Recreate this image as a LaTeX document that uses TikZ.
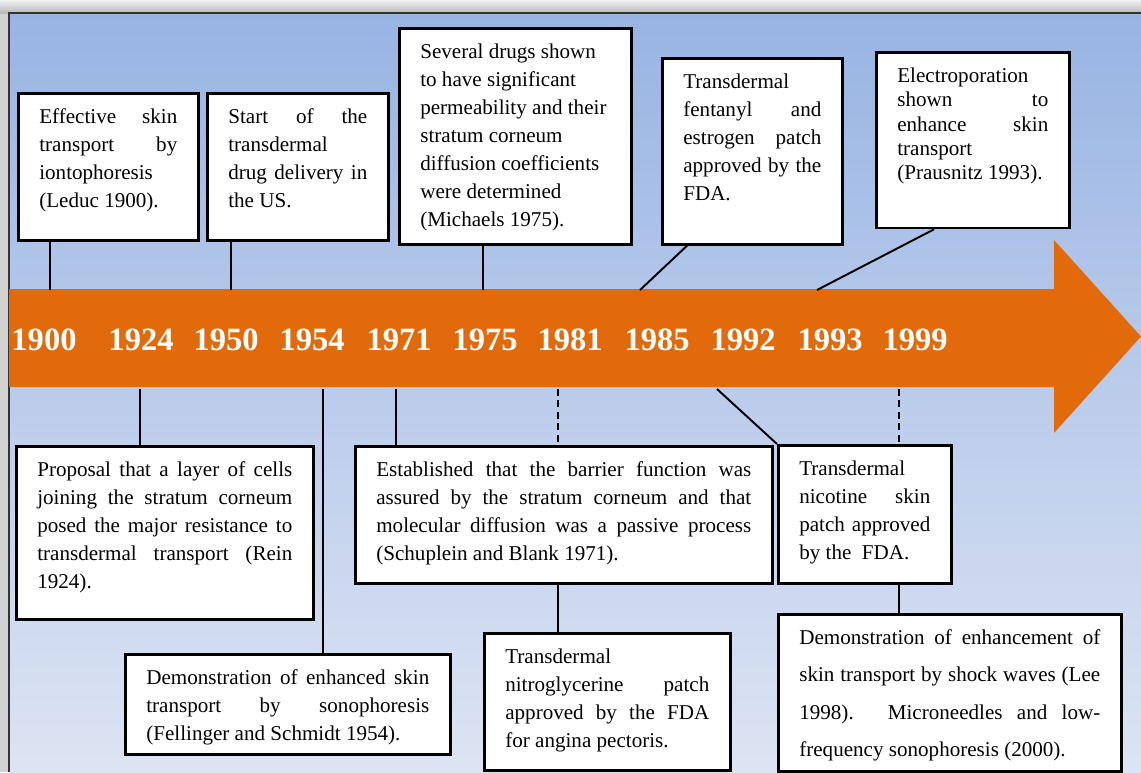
\documentclass[tikz,border=0pt]{standalone}
\usepackage{fontspec}
\setmainfont{Liberation Serif}
\usetikzlibrary{calc}

\definecolor{bandorange}{RGB}{226,106,10}
\definecolor{skytop}{RGB}{152,180,227}
\definecolor{skybottom}{RGB}{221,228,243}

\newdimen\px \px=0.02cm
% one justified line inside a box
\newcommand{\jl}[1]{\makebox[\hsize][s]{#1}\\}
% box text: width, height (px), lines
\newcommand{\boxtext}[3]{\parbox[t][#2\px][t]{#1\px}{\strut #3}}

\tikzset{
  box/.style={draw, line width=1.6pt, fill=white, anchor=north west,
    inner xsep=11.9pt, inner ysep=5.67pt, font=\fontsize{12}{16}\selectfont},
  link/.style={line width=1.6pt},
  slant/.style={line width=1.1pt},
  dashlink/.style={line width=1.1pt, dash pattern=on 4pt off 2.5pt},
  year/.style={text=white, inner sep=0pt, font=\bfseries\fontsize{18.5}{18.5}\selectfont},
}

\begin{document}
\begin{tikzpicture}[x=0.02cm, y=-0.02cm]
\useasboundingbox (0,0) rectangle (1141,772);

% frame and background
\fill[gray!35] (0,0) rectangle (1141,772);
\fill[top color=gray!12, bottom color=gray!55] (0,0) rectangle (1141,13);
\fill[top color=skytop, bottom color=skybottom] (9,13) rectangle (1141,772);
\draw[line width=0.8pt, black!80] (9,772) -- (9,13) -- (1141,13);

% timeline arrow
\fill[bandorange] (9,289) -- (1054,289) -- (1054,240) -- (1141,336.5)
  -- (1054,433) -- (1054,387) -- (9,387) -- cycle;

\foreach \yr/\xx in {1900/44, 1924/141, 1950/226, 1954/312, 1971/399, 1975/485,
                     1981/570, 1985/657, 1992/743, 1993/830, 1999/915}
  \node[year] (y\yr) at (\xx,339.5) {\yr};

% ends of the connectors on the arrow
\foreach \yr/\xx in {1900/50, 1950/231, 1975/483, 1985/640, 1993/817}
  \coordinate (c\yr) at (\xx,290);
\foreach \yr/\xx in {1924/140, 1954/323, 1971/396, 1981/558, 1992/717, 1999/899}
  \coordinate (c\yr) at (\xx,389);

% boxes above
\node[box] (b1900) at (17,92) {\boxtext{138}{127}{%
  \jl{Effective skin}\jl{transport by}iontophoresis\\(Leduc 1900).}};
\node[box] (b1950) at (206,92) {\boxtext{139}{127}{%
  \jl{Start of the}transdermal\\\jl{drug delivery in}the US.}};
\node[box] (b1975) at (398,27) {\boxtext{190}{196}{%
  Several drugs shown\\to have significant\\permeability and their\\stratum corneum\\%
  diffusion coefficients\\were determined\\(Michaels 1975).}};
\node[box] (b1985) at (661,57) {\boxtext{138}{166}{%
  Transdermal\\\jl{fentanyl and}\jl{estrogen patch}\jl{approved by the}FDA.}};
\node[box, inner ysep=7.26pt, font=\fontsize{12}{13.9}\selectfont] (b1993) at (875,51)
  {\boxtext{151}{150}{%
  Electroporation\\\jl{shown to}\jl{enhance skin}transport\\(Prausnitz 1993).}};

% boxes below
\node[box] (b1924) at (15,445) {\boxtext{255}{153}{%
  \jl{Proposal that a layer of cells}\jl{joining the stratum corneum}%
  \jl{posed the major resistance to}\jl{transdermal transport (Rein}1924).}};
\node[box] (b1954) at (124,653) {\boxtext{283}{80}{%
  \jl{Demonstration of enhanced skin}\jl{transport by sonophoresis}%
  (Fellinger and Schmidt 1954).}};
\node[box] (b1971) at (354,445) {\boxtext{375}{117}{%
  \jl{Established that the barrier function was}\jl{assured by the stratum corneum and that}%
  \jl{molecular diffusion was a passive process}(Schuplein and Blank 1971).}};
\node[box] (b1981) at (483,632) {\boxtext{204}{117}{%
  Transdermal\\\jl{nitroglycerine patch}\jl{approved by the FDA}for angina pectoris.}};
\node[box] (b1992) at (777,444) {\boxtext{131}{118}{%
  Transdermal\\\jl{nicotine skin}\jl{patch approved}by the\ \ FDA.}};
\node[box, inner ysep=2.1pt, font=\fontsize{12}{21.3}\selectfont] (b1999) at (777,613)
  {\boxtext{301}{150}{%
  \jl{Demonstration of enhancement of}\jl{skin transport by shock waves (Lee}%
  \jl{1998). Microneedles and low-}frequency sonophoresis (2000).}};

% connectors
\draw[link] (c1900) -- (c1900 |- b1900.south);
\draw[link] (c1950) -- (c1950 |- b1950.south);
\draw[link] (c1975) -- (c1975 |- b1975.south);
\draw[slant] (c1985) -- ($(b1985.south west)+(26,0)$);
\draw[slant] (c1993) -- ($(b1993.south west)+(59,0)$);
\draw[link] (c1924) -- (c1924 |- b1924.north);
\draw[link] (c1954) -- (c1954 |- b1954.north);
\draw[link] (c1971) -- (c1971 |- b1971.north);
\draw[dashlink] (c1981) -- (c1981 |- b1971.north);
\draw[link] (c1981 |- b1971.south) -- (c1981 |- b1981.north);
\draw[slant] (c1992) -- (b1992.north west);
\draw[dashlink] (c1999) -- (c1999 |- b1992.north);
\draw[link] (c1999 |- b1992.south) -- (c1999 |- b1999.north);
\end{tikzpicture}
\end{document}
